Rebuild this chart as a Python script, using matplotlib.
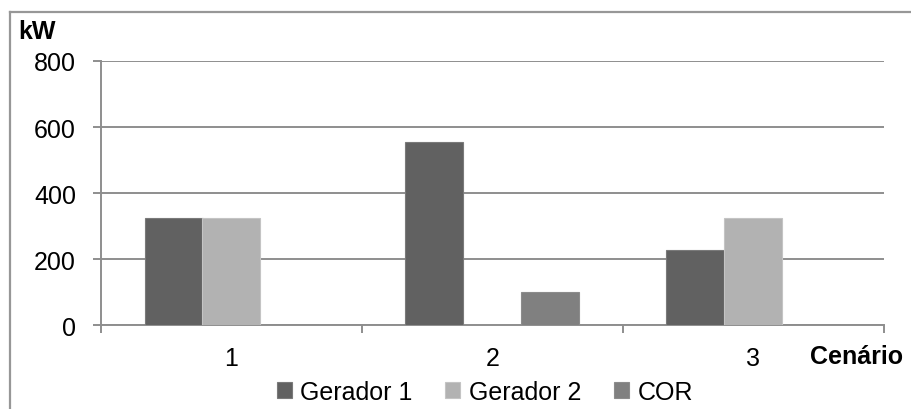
import matplotlib
matplotlib.use("Agg")
import matplotlib.pyplot as plt
from matplotlib.lines import Line2D
import numpy as np

plt.rcParams['font.family'] = ['Liberation Sans', 'DejaVu Sans']

categories = ["1", "2", "3"]
series_names = ["Gerador 1", "Gerador 2", "COR"]
gerador1 = [325, 555, 227]
gerador2 = [325, 0, 325]
cor = [0, 100, 0]
y_ticks = [0, 200, 400, 600, 800]

colors = ["#616161", "#b2b2b2", "#808080"]
edges = ["#7a7a7a", "#c4c4c4", "#8c8c8c"]
grid_c = "#8e8e8e"
fs = 18

fig = plt.figure(figsize=(9.11, 4.10), dpi=100)
ax = fig.add_axes([101 / 911, 1 - 326.3 / 410, (884 - 101) / 911, (326.3 - 61.9) / 410])

x = np.arange(len(categories))
w = 1 / 4.5
for i, vals in enumerate([gerador1, gerador2, cor]):
    ax.bar(x + (i - 1) * w, vals, width=w, color=colors[i], edgecolor=edges[i],
           linewidth=0.8, label=series_names[i], zorder=3)

ax.set_xlim(-0.5, len(categories) - 0.5)
ax.set_ylim(0, 800)
ax.set_yticks(y_ticks)
ax.set_yticklabels([str(v) for v in y_ticks], fontsize=fs)
ax.yaxis.grid(True, color=grid_c, linewidth=1.4, zorder=1)
ax.set_xticks(x)
ax.set_xticklabels(categories, fontsize=fs)
ax.set_xticks(np.arange(len(categories) + 1) - 0.5, minor=True)
ax.tick_params(axis='x', which='major', length=0, pad=15)
ax.tick_params(axis='x', which='minor', length=5.5, width=1.4, color=grid_c)
ax.tick_params(axis='y', length=6, width=1.4, color=grid_c, pad=12)

for side in ["top", "right"]:
    ax.spines[side].set_visible(False)
for side in ["left", "bottom"]:
    ax.spines[side].set_color(grid_c)
    ax.spines[side].set_linewidth(1.4)

fig.text(18 / 911, 1 - 32 / 410, "kW", fontsize=fs, fontweight='bold', va='center', ha='left')
fig.text(903 / 911, 1 - 357 / 410, "Cenário", fontsize=fs, fontweight='bold', va='center', ha='right')

leg = fig.legend(loc='center', bbox_to_anchor=(485 / 911, 1 - 393 / 410), ncol=3, frameon=False,
                 fontsize=fs, handlelength=0.6, handleheight=0.6, handletextpad=0.35,
                 columnspacing=1.3, borderaxespad=0, borderpad=0)

# frame around the chart area (top and left edges)
fig.add_artist(Line2D([10 / 911, 10 / 911], [0, 1 - 13 / 410], transform=fig.transFigure,
                      color="#979797", linewidth=1.6))
fig.add_artist(Line2D([10 / 911, 1], [1 - 13 / 410, 1 - 13 / 410], transform=fig.transFigure,
                      color="#979797", linewidth=1.6))

fig.savefig("out.png", dpi=100)
